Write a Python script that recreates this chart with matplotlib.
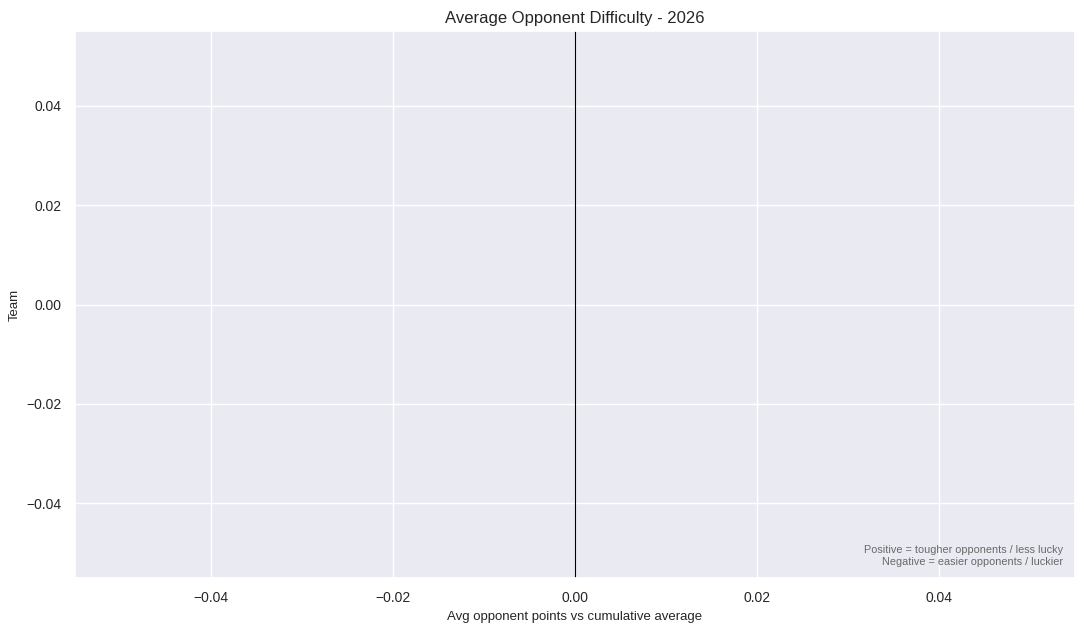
import matplotlib
matplotlib.use("Agg")
import matplotlib.pyplot as plt
import seaborn as sns

# data (the season has no games yet, so nothing to draw)
teams = []
difficulty = []
season = 2026

sns.set_theme(style="darkgrid")
plt.rcParams["font.family"] = ["Liberation Sans", "DejaVu Sans"]

fig, ax = plt.subplots(figsize=(10.84, 6.34), dpi=100)
ax.barh(teams, difficulty, color="#4c72b0")
ax.axvline(0, color="black", linewidth=0.8)

ax.set_xlim(-0.055, 0.055)
ax.set_ylim(-0.055, 0.055)
ax.set_title(f"Average Opponent Difficulty - {season}", fontsize=12)
ax.set_xlabel("Avg opponent points vs cumulative average", fontsize=9.5)
ax.set_ylabel("Team", fontsize=9.5)
ax.tick_params(labelsize=10)

ax.text(0.988, 0.02, "Positive = tougher opponents / less lucky\nNegative = easier opponents / luckier",
        transform=ax.transAxes, ha="right", va="bottom", fontsize=7.8, color="dimgray")

fig.subplots_adjust(left=75 / 1084, right=1075 / 1084, top=1 - 31 / 634, bottom=1 - 578 / 634)
fig.savefig("out.png", dpi=100)
